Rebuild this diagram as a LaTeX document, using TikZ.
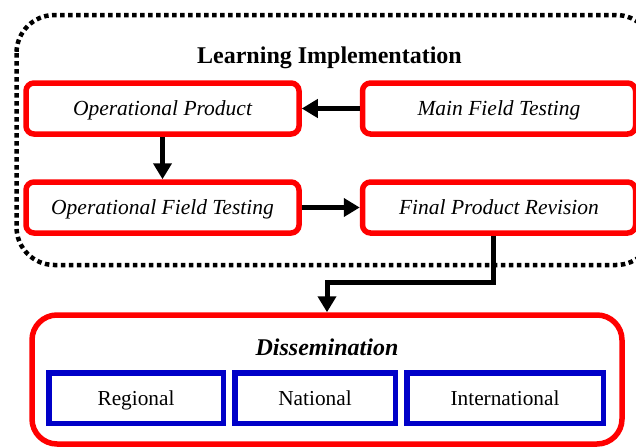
\documentclass[tikz,border=0pt]{standalone}
\usepackage{fontspec}
\setmainfont{Liberation Serif}
\usetikzlibrary{arrows.meta}
\definecolor{boxred}{RGB}{255,0,0}
\definecolor{boxblue}{RGB}{0,0,200}
\begin{document}
\begin{tikzpicture}[x=1pt,y=-1pt,
  stagebox/.style={draw=boxred, line width=5.5pt, rounded corners=8pt,
    minimum width=273pt, minimum height=51pt, inner sep=0pt,
    text height=14pt, text depth=0pt,
    font=\fontsize{21.5}{25}\selectfont\itshape},
  levelbox/.style={draw=boxblue, line width=5.5pt, minimum height=50.5pt,
    inner sep=0pt, text height=15pt, text depth=0pt,
    font=\fontsize{21.3}{25}\selectfont},
  flow/.style={line width=5pt, draw=black,
    -{Triangle[length=16pt,width=18pt]}},
  groupline/.style={line width=4.5pt, dash pattern=on 4.5pt off 3.5pt}
]
\useasboundingbox (0,0) rectangle (636,447);
\clip (0,0) rectangle (636,447);

% dotted frame around the implementation stage
\draw[groupline, rounded corners=38pt] (16.5,15) rectangle (654,265);
\node[font=\fontsize{24}{28}\selectfont\bfseries, text height=16pt, text depth=0pt]
  (title) at (329.5,55) {Learning Implementation};

% stages
\node[stagebox] (op)  at (162.5,108.5) {Operational Product};
\node[stagebox] (mft) at (499,108.5)   {Main Field Testing};
\node[stagebox] (oft) at (162.5,207.5) {Operational Field Testing};
\node[stagebox] (fpr) at (499,207.5)   {Final Product Revision};

% dissemination block
\node[draw=boxred, line width=5.5pt, rounded corners=25pt, inner sep=0pt,
  minimum width=590pt, minimum height=129pt] (dis) at (327,379.5) {};
\node[font=\fontsize{24}{28}\selectfont\bfseries\itshape, text height=16pt, text depth=0pt]
  (distitle) at (327,347) {Dissemination};
\node[levelbox, minimum width=174.5pt] (reg) at (136,398)   {Regional};
\node[levelbox, minimum width=160.5pt] (nat) at (315,398)   {National};
\node[levelbox, minimum width=196.5pt] (int) at (505,398)   {International};

% connectors
\draw[flow] (mft.west) -- (op.east);
\draw[flow] (op.south) -- (oft.north);
\draw[flow] (oft.east) -- (fpr.west);
\coordinate (elbow) at (327,282);
\draw[flow] ([xshift=-6pt]fpr.south) |- (elbow) -- (dis.north);
\end{tikzpicture}
\end{document}
